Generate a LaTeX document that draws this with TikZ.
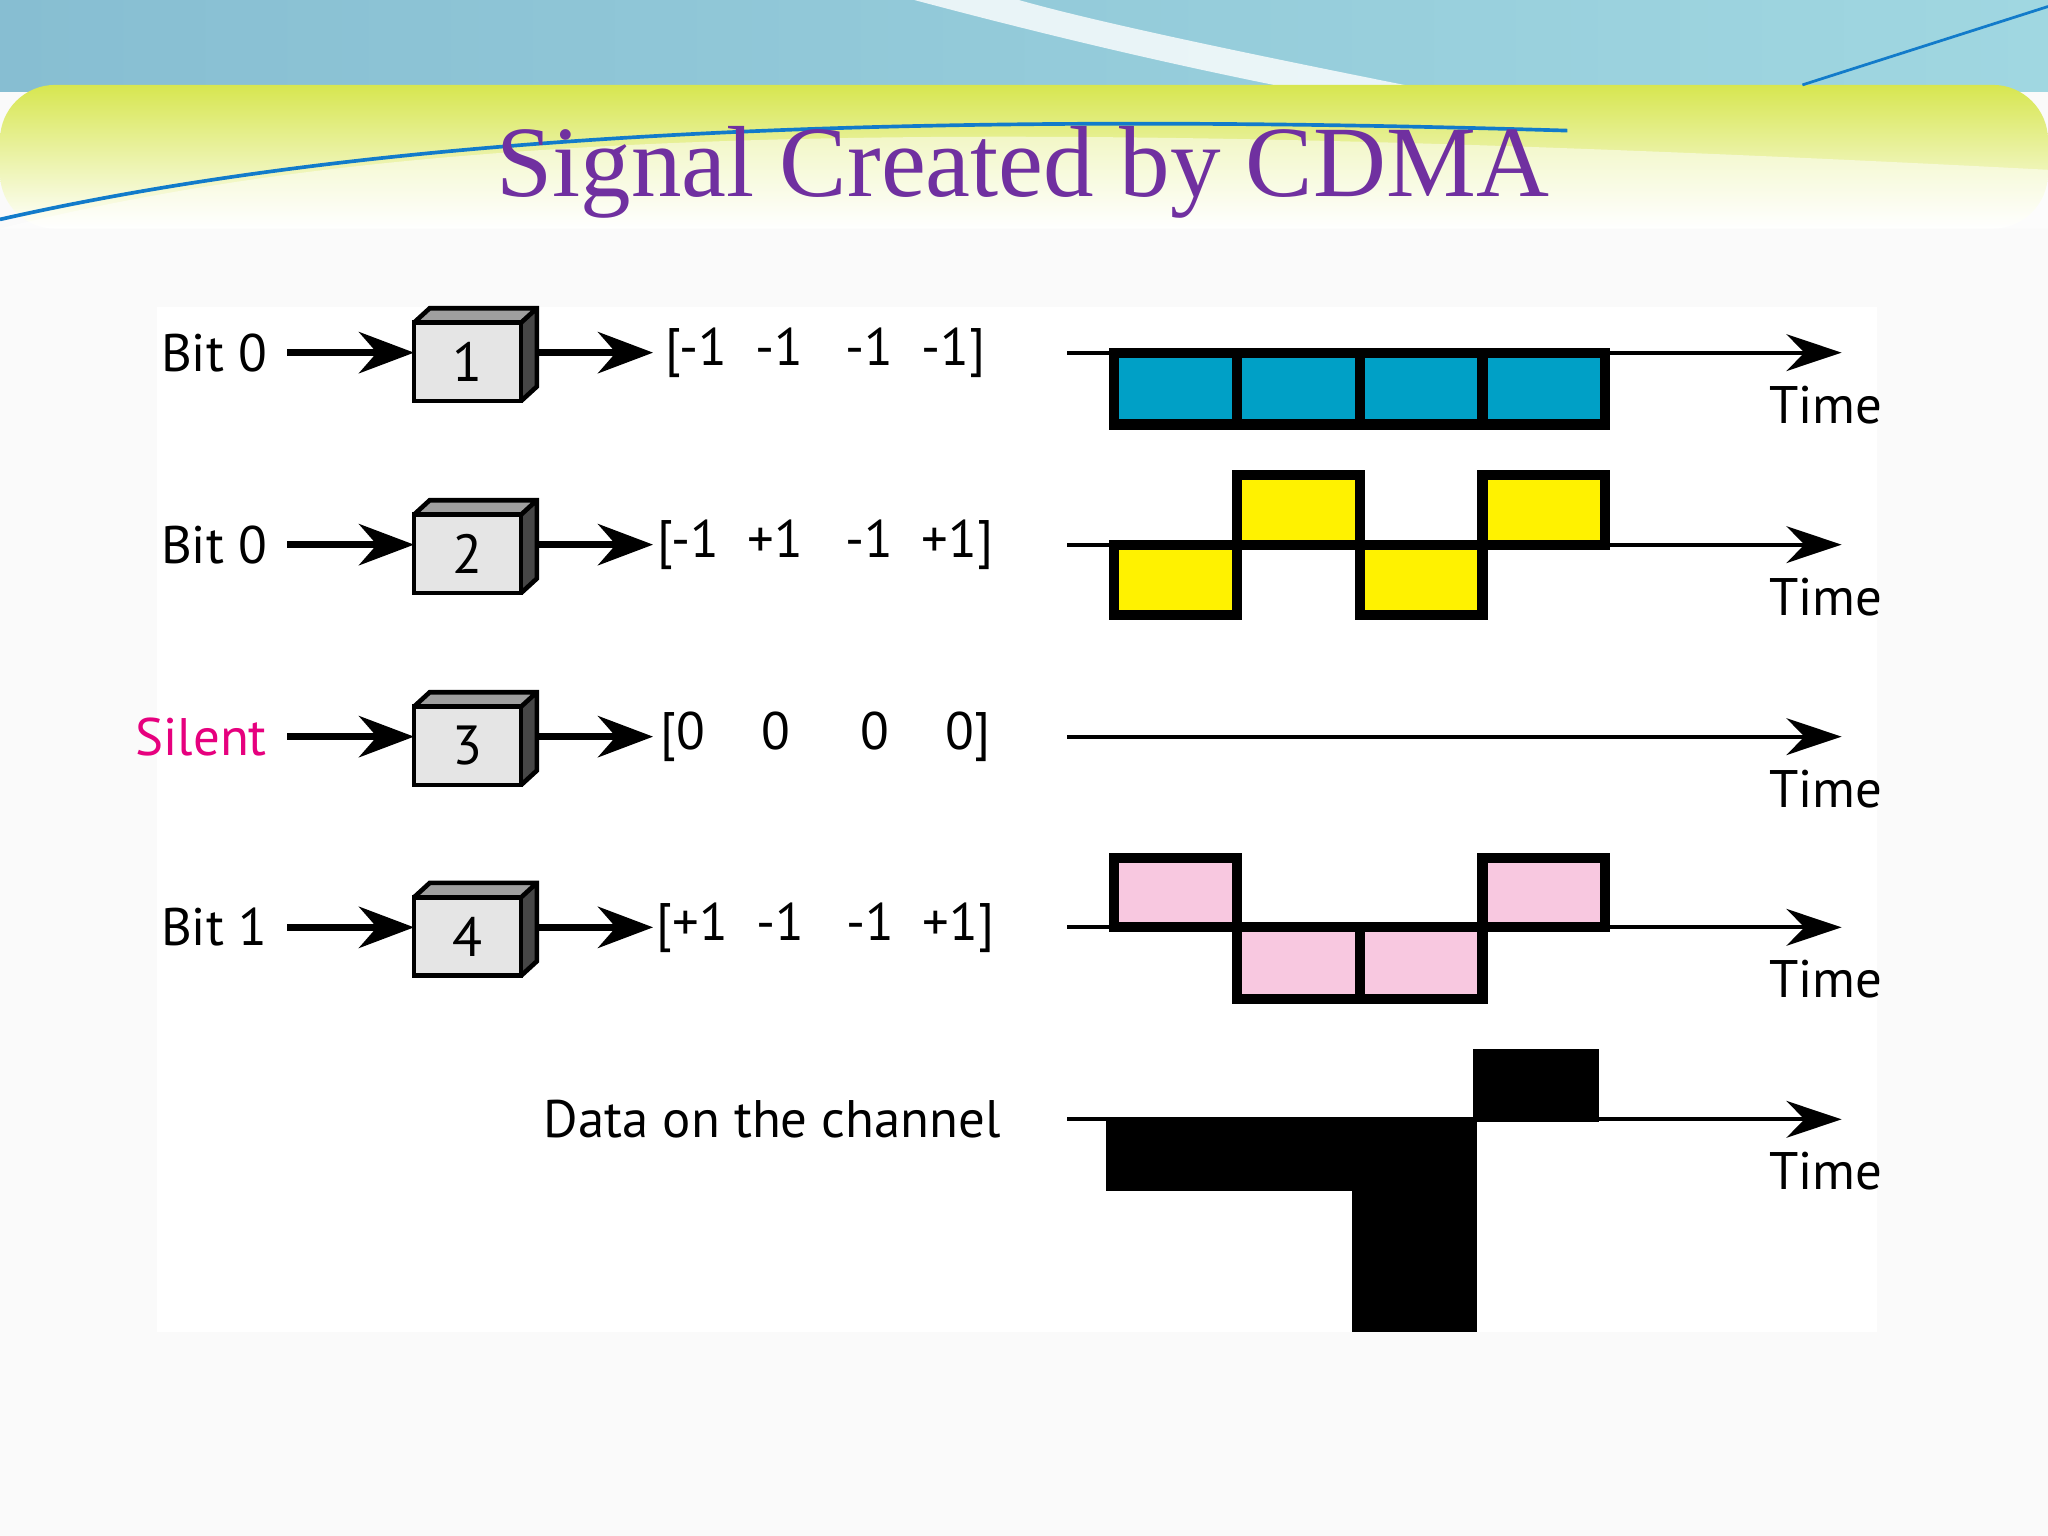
\documentclass[tikz,border=0pt]{standalone}
\usepackage{fontspec}
\setmainfont{PT Sans}
\newfontfamily\titlefont{Liberation Serif}
\usetikzlibrary{arrows.meta}
\definecolor{ttl}{RGB}{112,48,160}
\definecolor{cyanc}{RGB}{0,160,198}
\definecolor{pinkc}{RGB}{248,200,224}
\definecolor{silentc}{RGB}{230,0,126}
\definecolor{topband}{RGB}{135,190,210}
\definecolor{topband2}{RGB}{160,215,225}
\definecolor{ygreen}{RGB}{215,230,80}
\tikzset{
 lbl/.style={font=\fontsize{11.5}{14}\selectfont, inner sep=0pt},
 arr/.style={line width=1.4pt,-{Stealth[length=12pt,width=9pt]}},
 ax/.style={line width=0.9pt,-{Stealth[length=12pt,width=8pt]}},
 chip/.style={line width=2.2pt,draw=black},
}
\newcommand{\cube}[3]{% name, y, label
 \fill[gray!75] (317,#2-30)--(329,#2-41)--(411,#2-41)--(399,#2-30)--cycle;
 \fill[gray!55!black] (399,#2-30)--(411,#2-41)--(411,#2+19)--(399,#2+30)--cycle;
 \draw[line width=1pt] (317,#2-30)--(329,#2-41)--(411,#2-41)--(411,#2+19)--(399,#2+30) (399,#2-30)--(411,#2-41);
 \node[draw,line width=1pt,fill=gray!20,minimum width=0.82cm,minimum height=0.6cm,inner sep=0pt,font=\fontsize{12}{14}\selectfont] (#1) at (358,#2) {#3};
}
\begin{document}
\begin{tikzpicture}[x=0.01cm,y=-0.01cm]
\useasboundingbox (0,0) rectangle (1568,1176);
\fill[gray!4] (0,0) rectangle (1568,1176);
\shade[left color=topband, right color=topband2] (0,0) rectangle (1568,70);
\fill[white,opacity=0.8] (700,0) .. controls (850,40) and (950,60) .. (1000,70) -- (1100,70) .. controls (1000,50) and (850,20) .. (780,0) -- cycle;
\shade[top color=ygreen, bottom color=white, rounded corners=12] (0,65) rectangle (1568,175);
\fill[white,opacity=0.5] (0,175) .. controls (300,100) and (700,85) .. (1568,130) -- (1568,175) -- (0,175) -- cycle;
\draw[cyan!60!blue,line width=0.8pt] (0,168) .. controls (300,100) and (700,85) .. (1200,100);
\draw[cyan!60!blue,line width=0.6pt] (1380,65) -- (1568,5);
\fill[white] (120,235) rectangle (1437,1020);
\node[font=\titlefont\fontsize{22}{26}\selectfont,text=ttl] (title) at (783,132) {Signal Created by CDMA};

% rows
\foreach \y/\n/\t/\v in {270/1/Bit 0/{[-1\ \ -1\ \ \ -1\ \ -1]},417/2/Bit 0/{[-1\ \ +1\ \ \ -1\ \ +1]},564/3/{\textcolor{silentc}{Silent}}/{[0\ \ \ \ 0\ \ \ \ \ 0\ \ \ \ 0]},710/4/Bit 1/{[+1\ \ -1\ \ \ -1\ \ +1]}}{
  \node[lbl,anchor=east] (in\n) at (205,\y) {\t};
  \cube{c\n}{\y+7}{\n}
  \coordinate (al\n) at (220,\y);
  \coordinate (cl\n) at (317,\y);
  \coordinate (cr\n) at (411,\y);
  \coordinate (ve\n) at (500,\y);
  \draw[arr] (al\n) -- (cl\n);
  \draw[arr] (cr\n) -- (ve\n);
  \node[lbl] (v\n) at (632,\y) {\v};
  \coordinate (a\n) at (817,\y);
  \coordinate (b\n) at (1410,\y);
  \draw[ax] (a\n) -- (b\n);
  \node[lbl] (t\n) at (1398,\y+40) {Time};
}
\coordinate (a5) at (817,857); \coordinate (b5) at (1410,857);
\draw[ax] (a5) -- (b5);
\node[lbl] (t5) at (1398,897) {Time};
\node[lbl,anchor=east] (data) at (767,857) {Data on the channel};

% row1
\foreach \x in {853,947,1041,1135} \draw[chip,fill=cyanc] (\x,270) rectangle ++(94,55);
% row2
\draw[chip,fill=yellow] (853,417) rectangle ++(94,54);
\draw[chip,fill=yellow] (947,364) rectangle ++(94,53);
\draw[chip,fill=yellow] (1041,417) rectangle ++(94,54);
\draw[chip,fill=yellow] (1135,364) rectangle ++(94,53);
% row4
\draw[chip,fill=pinkc] (853,657) rectangle ++(94,53);
\draw[chip,fill=pinkc] (947,710) rectangle ++(94,55);
\draw[chip,fill=pinkc] (1041,710) rectangle ++(94,55);
\draw[chip,fill=pinkc] (1135,657) rectangle ++(94,53);
% data
\fill[black] (847,855) rectangle (1035,912);
\fill[black] (1035,855) rectangle (1131,1020);
\fill[black] (1128,803) rectangle (1224,859);
\end{tikzpicture}
\end{document}
